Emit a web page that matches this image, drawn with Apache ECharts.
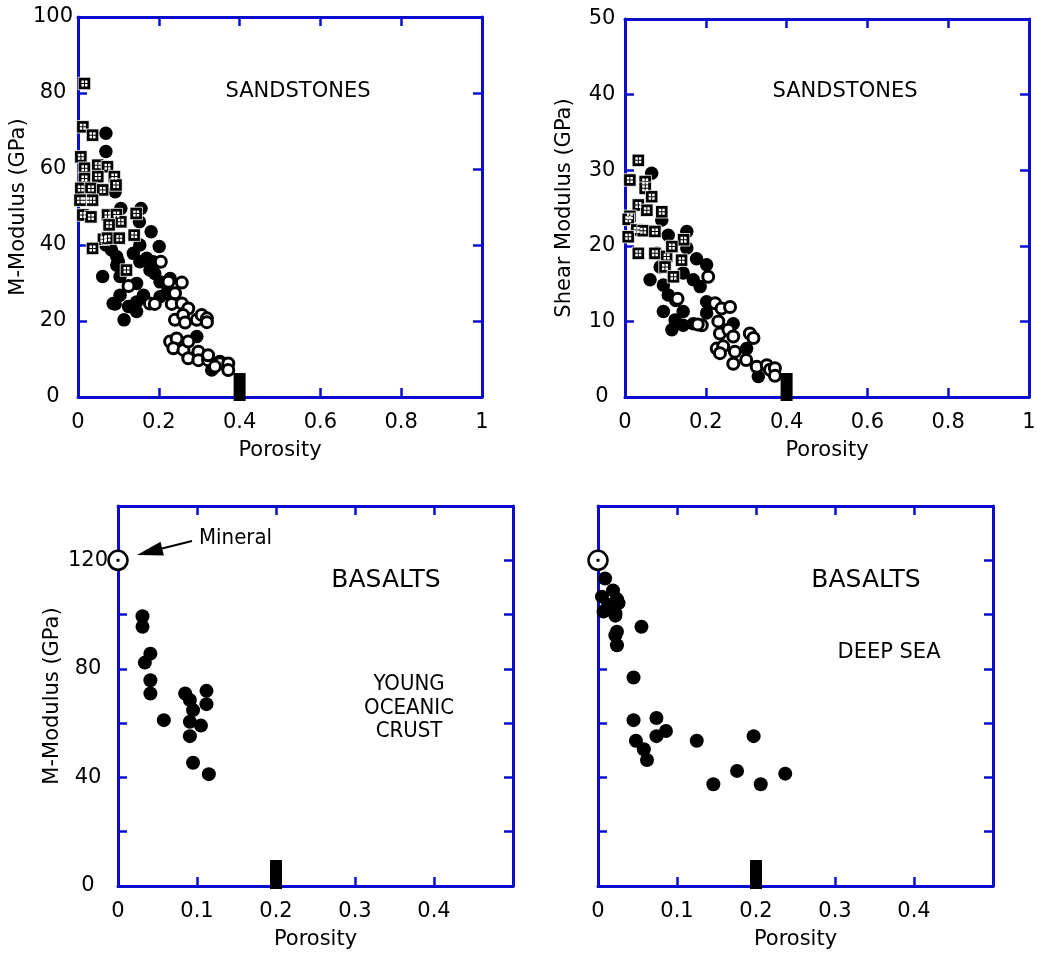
<!DOCTYPE html>
<html><head><meta charset="utf-8">
<script src="https://cdn.jsdelivr.net/npm/echarts@6/dist/echarts.min.js"></script>
<style>html,body{margin:0;padding:0;background:#fff}#c{width:1037px;height:955px}</style>
</head><body><div id="c"></div>
<script>
// ---------------- DATA ----------------
// Sandstones, M-modulus vs porosity  [porosity, GPa]
const sandM_squares = [[0.016,82.5],[0.012,71.1],[0.036,68.9],[0.007,63.2],[0.016,60.2],[0.049,61],[0.073,60.6],[0.016,57.5],[0.049,58],[0.09,58],[0.007,54.9],[0.032,54.9],[0.061,54.5],[0.094,55.8],[0.02,51.8],[0.036,51.8],[0.005,51.8],[0.012,47.9],[0.032,47.4],[0.073,47.9],[0.095,48],[0.106,46.1],[0.077,45.3],[0.144,48.3],[0.139,42.6],[0.063,41.5],[0.073,41.8],[0.102,41.8],[0.036,39.1],[0.12,33.4]];
const sandM_filled = [[0.069,69.4],[0.069,64.6],[0.092,54],[0.106,49.6],[0.156,49.6],[0.152,46.1],[0.181,43.5],[0.201,39.6],[0.069,40],[0.083,38.7],[0.096,36.9],[0.137,37.8],[0.153,40],[0.17,36.5],[0.186,35.6],[0.19,32.5],[0.203,30.3],[0.096,34.7],[0.104,31.7],[0.061,31.7],[0.145,29.9],[0.104,26.8],[0.092,24.5],[0.125,23.8],[0.145,22.5],[0.162,26.8],[0.114,20.3],[0.145,25],[0.219,27.3],[0.294,15.9],[0.331,7.1],[0.228,31.2],[0.1,35.6],[0.153,35.6],[0.087,24.6],[0.129,23.8],[0.203,26.4],[0.178,33.4]];
const sandM_open = [[0.205,35.6],[0.125,29.2],[0.224,30.3],[0.257,30.1],[0.24,27.3],[0.178,24.6],[0.19,24.5],[0.232,24.5],[0.257,24.6],[0.273,23.3],[0.24,20.3],[0.26,21.6],[0.265,19.6],[0.294,20.3],[0.306,21.6],[0.319,20.7],[0.319,19.7],[0.228,14.6],[0.244,15.4],[0.236,12.8],[0.261,12.4],[0.273,14.6],[0.273,10.2],[0.298,11.9],[0.298,9.7],[0.322,9.7],[0.322,11],[0.351,9.3],[0.351,8.9],[0.372,8.8],[0.372,7.1],[0.339,8]];
// Sandstones, shear modulus vs porosity
const sandG_squares = [[0.033,31.3],[0.012,28.7],[0.05,28.5],[0.05,27.6],[0.066,26.5],[0.033,25.4],[0.012,23.9],[0.008,23.5],[0.054,24.7],[0.091,24.5],[0.029,22.1],[0.045,22],[0.008,21.2],[0.074,21.9],[0.033,19],[0.074,19],[0.103,18.6],[0.14,18.1],[0.145,20.8],[0.116,19.9],[0.099,17.2],[0.12,15.9]];
const sandG_filled = [[0.066,29.6],[0.091,23.4],[0.107,21.4],[0.153,21.9],[0.153,19.7],[0.177,18.3],[0.202,17.5],[0.062,15.5],[0.144,16.4],[0.169,15.5],[0.186,14.6],[0.095,14.8],[0.107,13.5],[0.095,11.3],[0.144,11.3],[0.124,10.2],[0.116,8.9],[0.144,9.5],[0.202,12.6],[0.202,11.1],[0.268,9.7],[0.301,6.4],[0.33,2.7],[0.078,19],[0.087,17.2],[0.169,9.7]];
const sandG_open = [[0.206,15.9],[0.126,12.8],[0.13,13],[0.223,12.4],[0.239,11.7],[0.26,11.9],[0.231,10],[0.19,9.5],[0.18,9.6],[0.235,8.4],[0.256,8.9],[0.268,8],[0.309,8.4],[0.318,7.8],[0.227,6.4],[0.243,6.7],[0.235,5.8],[0.272,6],[0.268,4.4],[0.3,4.9],[0.326,4],[0.351,4.2],[0.359,3.6],[0.371,3.8],[0.371,2.8]];
// Critical porosity markers
const sandCritical = [[0.4,0]];
const basaltCritical = [[0.2,0]];
// Basalts
const mineralPoint = [[0,120]];
const basaltYoung = [[0.031,99.4],[0.031,95.5],[0.041,85.6],[0.034,82.3],[0.041,75.8],[0.041,70.9],[0.058,61.1],[0.085,70.9],[0.091,68.5],[0.095,64.8],[0.091,60.5],[0.091,55.2],[0.095,45.4],[0.112,71.9],[0.112,67],[0.105,59.1],[0.115,41.2]];
const basaltDeep = [[0.009,113.3],[0.005,106.6],[0.019,108.9],[0.024,105.7],[0.026,104.2],[0.013,103.6],[0.007,101.1],[0.022,100.5],[0.022,99.6],[0.055,95.5],[0.024,93.7],[0.022,92.4],[0.024,88.7],[0.045,76.8],[0.045,61.1],[0.074,61.9],[0.086,57.1],[0.074,55.2],[0.048,53.5],[0.058,50.4],[0.062,46.4],[0.125,53.5],[0.197,55.2],[0.146,37.5],[0.176,42.4],[0.206,37.5],[0.237,41.4]];
// Axis labels / annotations
const xName = 'Porosity';
const yNames = ['M-Modulus (GPa)', 'Shear Modulus (GPa)', 'M-Modulus (GPa)'];
const panelTitles = ['SANDSTONES', 'SANDSTONES', 'BASALTS', 'BASALTS'];

// ---------------- CHART ----------------
const BLUE = '#0c0cd0';
const FONT = 'DejaVu Sans';
const COND = '"DejaVu Sans Condensed", "DejaVu Sans"';
const chart = echarts.init(document.getElementById('c'), null, {renderer: 'canvas'});

const grids = [
  {left: 78, top: 17, width: 404, height: 380},
  {left: 625, top: 19, width: 404, height: 378},
  {left: 118, top: 506, width: 395, height: 380},
  {left: 598, top: 506, width: 395, height: 380}
].map(g => Object.assign({outerBoundsMode: 'none', containLabel: false}, g));

function xAx(gi, max, interval, top, fmt) {
  return {
    type: 'value', gridIndex: gi, min: 0, max: max, interval: interval,
    position: top ? 'top' : 'bottom',
    axisLine: {show: true, onZero: false, lineStyle: {color: BLUE, width: 3}},
    axisTick: {show: true, inside: true, length: 9, lineStyle: {color: BLUE, width: 2.5}},
    axisLabel: {show: !top, margin: 15, color: '#000', fontFamily: FONT, fontSize: 21, formatter: fmt},
    splitLine: {show: false},
    name: top ? '' : xName, nameLocation: 'middle', nameGap: 43,
    nameTextStyle: {color: '#000', fontFamily: FONT, fontSize: 21}
  };
}
function yAx(gi, max, interval, right, showLabel, margin, fmt, name, nameGap) {
  return {
    type: 'value', gridIndex: gi, min: 0, max: max, interval: interval,
    position: right ? 'right' : 'left',
    axisLine: {show: true, onZero: false, lineStyle: {color: BLUE, width: 3}},
    axisTick: {show: true, inside: true, length: 9, lineStyle: {color: BLUE, width: 2.5}},
    axisLabel: {show: showLabel && !right, margin: margin, align: 'center', color: '#000', fontFamily: FONT, fontSize: 21, formatter: fmt},
    splitLine: {show: false},
    name: right ? '' : (name || ''), nameLocation: 'middle', nameGap: nameGap || 0,
    nameTextStyle: {color: '#000', fontFamily: FONT, fontSize: 21}
  };
}
const fmtPlain = v => String(+v.toFixed(2));
const fmtHalf = v => (v > 0.45 ? '' : String(+v.toFixed(2)));
const fmt40 = v => (v % 40 === 0 && v <= 120 ? String(v) : '');

const xAxes = [
  xAx(0, 1, 0.2, false, fmtPlain), xAx(0, 1, 0.2, true),
  xAx(1, 1, 0.2, false, fmtPlain), xAx(1, 1, 0.2, true),
  xAx(2, 0.5, 0.1, false, fmtHalf), xAx(2, 0.5, 0.1, true),
  xAx(3, 0.5, 0.1, false, fmtHalf), xAx(3, 0.5, 0.1, true)
];
const yAxes = [
  yAx(0, 100, 20, false, true, 25, fmtPlain, yNames[0], 49), yAx(0, 100, 20, true),
  yAx(1, 50, 10, false, true, 23, fmtPlain, yNames[1], 50), yAx(1, 50, 10, true),
  yAx(2, 140, 20, false, true, 30, fmt40, yNames[2], 55), yAx(2, 140, 20, true),
  yAx(3, 140, 20, false, false, 30, fmt40), yAx(3, 140, 20, true)
];

const HOLES = 'path://M0 0h5v5h-5z M7 0h5v5h-5z M0 7h5v5h-5z M7 7h5v5h-5z';
function sc(gi, data, opt) {
  return Object.assign({
    type: 'scatter', xAxisIndex: 2 * gi, yAxisIndex: 2 * gi, data: data,
    silent: true, animation: false, clip: false, z: 5
  }, opt);
}
const filledStyle = {symbol: 'circle', symbolSize: 13.5, itemStyle: {color: '#000', opacity: 1, borderWidth: 0}};
const openStyle = {symbol: 'circle', symbolSize: 11, itemStyle: {color: '#fff', opacity: 1, borderColor: '#000', borderWidth: 3}};
const sqStyle = {symbol: 'rect', symbolSize: 12.5, itemStyle: {color: '#000', opacity: 1, borderColor: '#fff', borderWidth: 0.8}};
const holeStyle = {symbol: HOLES, symbolSize: 6, itemStyle: {color: '#fff', opacity: 1}};
const critStyle = (h, off) => ({symbol: 'rect', symbolSize: [12, h], symbolOffset: [0, off], itemStyle: {color: '#000', opacity: 1}});
const basaltStyle = {symbol: 'circle', symbolSize: 14, itemStyle: {color: '#000', opacity: 1}};
const mineralStyle = {symbol: 'circle', symbolSize: 19, itemStyle: {color: '#fff', opacity: 1, borderColor: '#000', borderWidth: 2.5}};
const dotStyle = {symbol: 'rect', symbolSize: 3, itemStyle: {color: '#000', opacity: 1}};

const series = [
  sc(0, sandM_filled, filledStyle), sc(0, sandM_open, openStyle),
  sc(0, sandM_squares, sqStyle), sc(0, sandM_squares, holeStyle),
  sc(0, sandCritical, critStyle(28, -10)),
  sc(1, sandG_filled, filledStyle), sc(1, sandG_open, openStyle),
  sc(1, sandG_squares, sqStyle), sc(1, sandG_squares, holeStyle),
  sc(1, sandCritical, critStyle(28, -10)),
  sc(2, basaltYoung, basaltStyle), sc(2, mineralPoint, mineralStyle), sc(2, mineralPoint, dotStyle),
  sc(2, basaltCritical, critStyle(29, -11.5)),
  sc(3, basaltDeep, basaltStyle), sc(3, mineralPoint, mineralStyle), sc(3, mineralPoint, dotStyle),
  sc(3, basaltCritical, critStyle(29, -11.5))
];

function txt(x, y, text, size, family, lh) {
  return {type: 'text', x: x, y: y, silent: true, z: 100,
    style: {text: text, fill: '#000', font: size + 'px ' + family, align: 'center', verticalAlign: 'middle', lineHeight: lh || size}};
}
const graphic = [
  txt(298, 92, panelTitles[0], 21, FONT),
  txt(845, 92, panelTitles[1], 21, FONT),
  txt(386, 580, panelTitles[2], 25, FONT),
  txt(866, 580, panelTitles[3], 25, FONT),
  txt(409, 708, 'YOUNG\nOCEANIC\nCRUST', 22, COND, 23.5),
  txt(889, 653, 'DEEP SEA', 21, FONT),
  {type: 'text', x: 199, y: 538, silent: true, z: 100,
    style: {text: 'Mineral', fill: '#000', font: '22px ' + COND, align: 'left', verticalAlign: 'middle'}},
  {type: 'line', silent: true, z: 100, shape: {x1: 192, y1: 541, x2: 160, y2: 549}, style: {stroke: '#000', lineWidth: 2}},
  {type: 'polygon', silent: true, z: 100, shape: {points: [[137, 555], [163.9, 555.4], [160.5, 541.8]]}, style: {fill: '#000'}}
];

chart.setOption({
  animation: false,
  backgroundColor: '#fff',
  grid: grids,
  xAxis: xAxes,
  yAxis: yAxes,
  series: series,
  graphic: graphic
});
</script>
</body></html>
